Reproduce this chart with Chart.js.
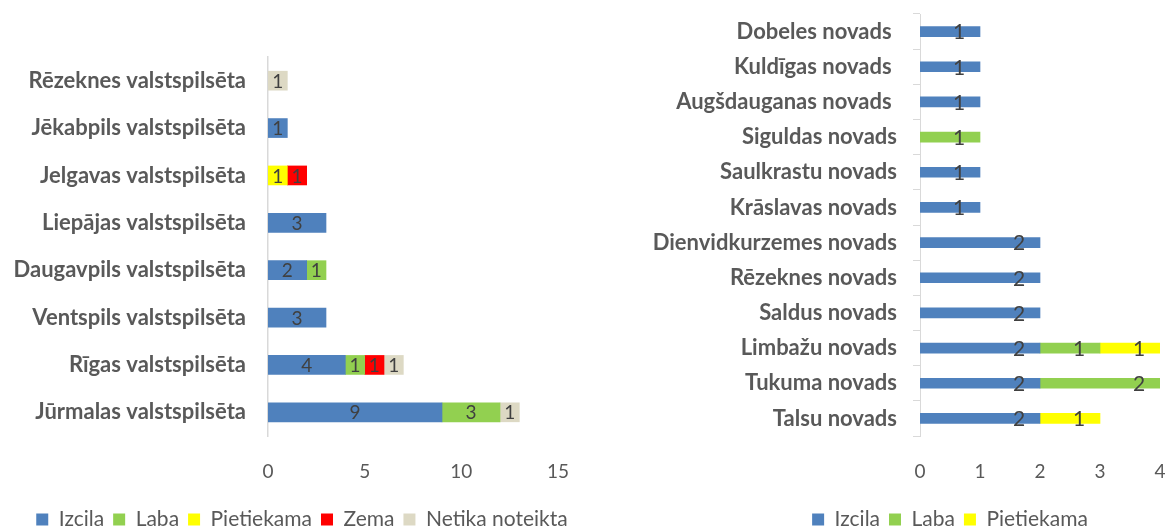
<!DOCTYPE html>
<html>
<head>
<meta charset="utf-8">
<script src="https://cdn.jsdelivr.net/npm/chart.js@4/dist/chart.umd.min.js"></script>
<style>
  html, body { margin: 0; padding: 0; background: #fff; overflow: hidden; }
  #wrap { position: relative; width: 1167px; height: 529px; overflow: hidden; }
  .box { position: absolute; top: 0; height: 540px; }
  #leftBox { left: 0; width: 590px; }
  #rightBox { left: 590px; width: 577px; }
</style>
</head>
<body>
<div id="wrap">
  <div class="box" id="leftBox"><canvas id="cityChart"></canvas></div>
  <div class="box" id="rightBox"><canvas id="regionChart"></canvas></div>
</div>
<script>
// valstspilsētas (kreisais grafiks)
var cityLabels = ["Rēzeknes valstspilsēta", "Jēkabpils valstspilsēta", "Jelgavas valstspilsēta",
    "Liepājas valstspilsēta", "Daugavpils valstspilsēta", "Ventspils valstspilsēta",
    "Rīgas valstspilsēta", "Jūrmalas valstspilsēta"];
var cityIzcila = [0, 1, 0, 3, 2, 3, 4, 9];
var cityLaba = [0, 0, 0, 0, 1, 0, 1, 3];
var cityPietiekama = [0, 0, 1, 0, 0, 0, 0, 0];
var cityZema = [0, 0, 1, 0, 0, 0, 1, 0];
var cityNetika = [1, 0, 0, 0, 0, 0, 1, 1];
var cityTicks = [0, 5, 10, 15];

// novadi (labais grafiks)
var regionLabels = ["Dobeles novads ", "Kuldīgas novads ", "Augšdauganas novads ", "Siguldas novads",
    "Saulkrastu novads", "Krāslavas novads", "Dienvidkurzemes novads", "Rēzeknes novads",
    "Saldus novads", "Limbažu novads", "Tukuma novads", "Talsu novads"];
var regionIzcila = [1, 1, 1, 0, 1, 1, 2, 2, 2, 2, 2, 2];
var regionLaba = [0, 0, 0, 1, 0, 0, 0, 0, 0, 1, 2, 0];
var regionPietiekama = [0, 0, 0, 0, 0, 0, 0, 0, 0, 1, 0, 1];
var regionTicks = [0, 1, 2, 3, 4];

var colIzcila = "#4f81bd";
var colLaba = "#92d050";
var colPietiekama = "#ffff00";
var colZema = "#ff0000";
var colNetika = "#ddd9c4";
var textGray = "#595959";

// nulles nezīmējam (citādi paliek plāna svītriņa)
function noZero(arr) {
    return arr.map(v => (v === 0 ? null : v));
}

// vērtību uzraksti uz stabiņiem + leģendas novietojums
const barLabels = {
    id: "barLabels",
    afterLayout(chart, args, opts) {
        const lg = chart.legend;
        const w = lg.right - lg.left;
        lg.left = opts.legendCenter - w / 2;
        lg.right = opts.legendCenter + w / 2;
    },
    afterDatasetsDraw(chart, args, opts) {
        const ctx = chart.ctx;
        ctx.save();
        ctx.font = opts.size + "px Lato";
        ctx.fillStyle = "#404040";
        ctx.textAlign = "center";
        ctx.textBaseline = "middle";
        chart.data.datasets.forEach((ds, i) => {
            const meta = chart.getDatasetMeta(i);
            if (meta.hidden) return;
            meta.data.forEach((bar, j) => {
                const v = ds.data[j];
                if (!v) return;
                let x = (bar.x + bar.base) / 2;
                if (opts.anchor === "end") x = bar.x - opts.offset;
                ctx.fillText(v, x, bar.y + 1);
            });
        });
        ctx.restore();
    }
};

function makeChart(id, labels, datasets, opt) {
    const ctx = document.getElementById(id).getContext("2d");
    return new Chart(ctx, {
        type: "bar",
        data: { labels: labels, datasets: datasets },
        plugins: [barLabels],
        options: {
            indexAxis: "y",
            responsive: true,
            maintainAspectRatio: false,
            animation: false,
            layout: { padding: { left: 0, right: opt.padRight, top: opt.padTop, bottom: 0 } },
            plugins: {
                tooltip: { enabled: false },
                barLabels: { size: opt.labelSize, anchor: opt.anchor, offset: 21, legendCenter: opt.legendCenter },
                legend: {
                    position: "bottom",
                    labels: {
                        boxWidth: 12,
                        boxHeight: 12,
                        padding: 9,
                        color: textGray,
                        font: { family: "Lato", size: 21 }
                    }
                }
            },
            scales: {
                x: {
                    stacked: true,
                    min: 0,
                    max: opt.ticks[opt.ticks.length - 1],
                    afterBuildTicks: (scale) => { scale.ticks = opt.ticks.map(v => ({ value: v })); },
                    afterFit: (scale) => {
                        scale.height = 64;
                        scale.paddingLeft = 0;
                        scale.paddingRight = 0;
                    },
                    grid: { display: false },
                    border: { display: false },
                    ticks: { color: textGray, padding: 16, font: { family: "Lato", size: 19 } }
                },
                y: {
                    stacked: true,
                    afterFit: (scale) => {
                        scale.width = opt.axisWidth;
                        scale.paddingTop = 0;
                        scale.paddingBottom = 0;
                    },
                    grid: {
                        display: true,
                        drawOnChartArea: false,
                        drawTicks: opt.drawTicks,
                        tickLength: 7,
                        color: "#d9d9d9"
                    },
                    border: { display: true, color: "#d9d9d9", width: opt.borderWidth },
                    ticks: {
                        color: textGray,
                        padding: opt.tickPad,
                        font: { family: "Lato", size: opt.catSize, weight: "bold" }
                    }
                }
            }
        }
    });
}

makeChart("cityChart", cityLabels, [
    { label: "Izcila", data: noZero(cityIzcila), backgroundColor: colIzcila, barThickness: 19 },
    { label: "Laba", data: noZero(cityLaba), backgroundColor: colLaba, barThickness: 19 },
    { label: "Pietiekama", data: noZero(cityPietiekama), backgroundColor: colPietiekama, barThickness: 19 },
    { label: "Zema", data: noZero(cityZema), backgroundColor: colZema, barThickness: 19 },
    { label: "Netika noteikta", data: noZero(cityNetika), backgroundColor: colNetika, barThickness: 19 }
], {
    padRight: 32, padTop: 57, axisWidth: 268, legendCenter: 302,
    ticks: cityTicks, labelSize: 19, anchor: "center",
    drawTicks: false, borderWidth: 1.5, tickPad: 22, catSize: 22
});

makeChart("regionChart", regionLabels, [
    { label: "Izcila", data: noZero(regionIzcila), backgroundColor: colIzcila, barThickness: 10 },
    { label: "Laba", data: noZero(regionLaba), backgroundColor: colLaba, barThickness: 10 },
    { label: "Pietiekama", data: noZero(regionPietiekama), backgroundColor: colPietiekama, barThickness: 10 }
], {
    padRight: 7, padTop: 14, axisWidth: 330, legendCenter: 360,
    ticks: regionTicks, labelSize: 21, anchor: "end",
    drawTicks: true, borderWidth: 1, tickPad: 16, catSize: 22
});
</script>
</body>
</html>
